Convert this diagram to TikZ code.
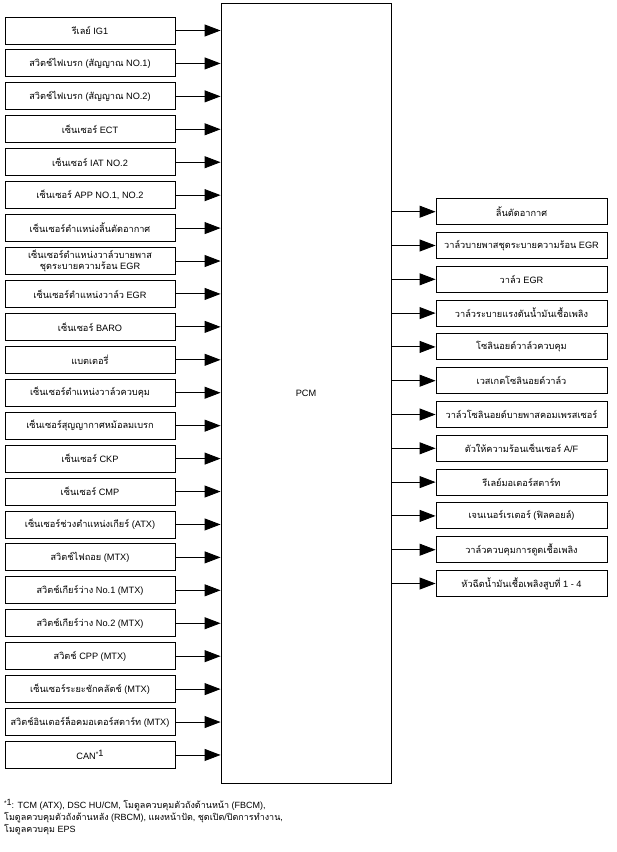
\documentclass[tikz,border=0pt]{standalone}
\usepackage{fontspec}
\setmainfont{Liberation Sans}
\newfontfamily\thaifont[Script=Thai]{Loma}
\newcommand{\T}[1]{{\thaifont #1}}
\newcommand{\fnmark}{\raisebox{2.8pt}{{\fontsize{6.5}{6.5}\selectfont *}1}}
\usetikzlibrary{arrows.meta}
\begin{document}
\begin{tikzpicture}[x=1pt,y=-1pt,
  txt/.style={font=\fontsize{9.2}{10}\selectfont},
  inbox/.style={draw, line width=0.9pt, minimum width=170pt, minimum height=27pt, inner sep=0pt, align=center, txt},
  outbox/.style={draw, line width=0.9pt, minimum width=171pt, minimum height=26pt, inner sep=0pt, align=center, txt},
  pcmbox/.style={draw, line width=0.9pt, minimum width=170pt, minimum height=780pt, inner sep=0pt, txt},
  arr/.style={line width=0.9pt, -{Triangle[length=16pt,width=12pt]}}
]
\useasboundingbox (0,0) rectangle (617,852);
\node[pcmbox] (pcm) at (306,393) {PCM};

\foreach \i/\t in {
  0/{\T{รีเลย์} IG1},
  1/{\T{สวิตช์ไฟเบรก} (\T{สัญญาณ} NO.1)},
  2/{\T{สวิตช์ไฟเบรก} (\T{สัญญาณ} NO.2)},
  3/{\T{เซ็นเซอร์} ECT},
  4/{\T{เซ็นเซอร์} IAT NO.2},
  5/{\T{เซ็นเซอร์} APP NO.1, NO.2},
  6/{\T{เซ็นเซอร์ตำแหน่งลิ้นตัดอากาศ}},
  7/{\T{เซ็นเซอร์ตำแหน่งวาล์วบายพาส}\\[1.8pt]\T{ชุดระบายความร้อน} EGR},
  8/{\T{เซ็นเซอร์ตำแหน่งวาล์ว} EGR},
  9/{\T{เซ็นเซอร์} BARO},
  10/{\T{แบตเตอรี่}},
  11/{\T{เซ็นเซอร์ตำแหน่งวาล์วควบคุม}},
  12/{\T{เซ็นเซอร์สุญญากาศหม้อลมเบรก}},
  13/{\T{เซ็นเซอร์} CKP},
  14/{\T{เซ็นเซอร์} CMP},
  15/{\T{เซ็นเซอร์ช่วงตำแหน่งเกียร์} (ATX)},
  16/{\T{สวิตช์ไฟถอย} (MTX)},
  17/{\T{สวิตช์เกียร์ว่าง} No.1 (MTX)},
  18/{\T{สวิตช์เกียร์ว่าง} No.2 (MTX)},
  19/{\T{สวิตช์} CPP (MTX)},
  20/{\T{เซ็นเซอร์ระยะชักคลัตช์} (MTX)},
  21/{\T{สวิตช์อินเตอร์ล็อคมอเตอร์สตาร์ท} (MTX)},
  22/{CAN\fnmark}}
{
  \node[inbox] (l\i) at (90,{30.5+32.93*\i}) {\t};
  \draw[arr] (l\i.east) -- (l\i.east -| pcm.west);
}

\foreach \j/\t in {
  0/{\T{ลิ้นตัดอากาศ}},
  1/{\T{วาล์วบายพาสชุดระบายความร้อน} EGR},
  2/{\T{วาล์ว} EGR},
  3/{\T{วาล์วระบายแรงดันน้ำมันเชื้อเพลิง}},
  4/{\T{โซลินอยด์วาล์วควบคุม}},
  5/{\T{เวสเกตโซลินอยด์วาล์ว}},
  6/{\T{วาล์วโซลินอยด์บายพาสคอมเพรสเซอร์}},
  7/{\T{ตัวให้ความร้อนเซ็นเซอร์} A/F},
  8/{\T{รีเลย์มอเตอร์สตาร์ท}},
  9/{\T{เจนเนอร์เรเตอร์} (\T{ฟิลคอยล์})},
  10/{\T{วาล์วควบคุมการดูดเชื้อเพลิง}},
  11/{\T{หัวฉีดน้ำมันเชื้อเพลิงสูบที่} 1 - 4}}
{
  \node[outbox] (r\j) at (521.5,{211.7+33.8*\j}) {\t};
  \draw[arr] (r\j.west -| pcm.east) -- (r\j.west);
}

\node[anchor=north west, align=left, inner sep=0pt, font=\fontsize{9}{12}\selectfont] (note) at (4,799)
{\fnmark: TCM (ATX), DSC HU/CM, \T{โมดูลควบคุมตัวถังด้านหน้า} (FBCM),\\
\T{โมดูลควบคุมตัวถังด้านหลัง} (RBCM), \T{แผงหน้าปัด}, \T{ชุดเปิด}/\T{ปิดการทำงาน},\\
\T{โมดูลควบคุม} EPS};
\end{tikzpicture}
\end{document}
